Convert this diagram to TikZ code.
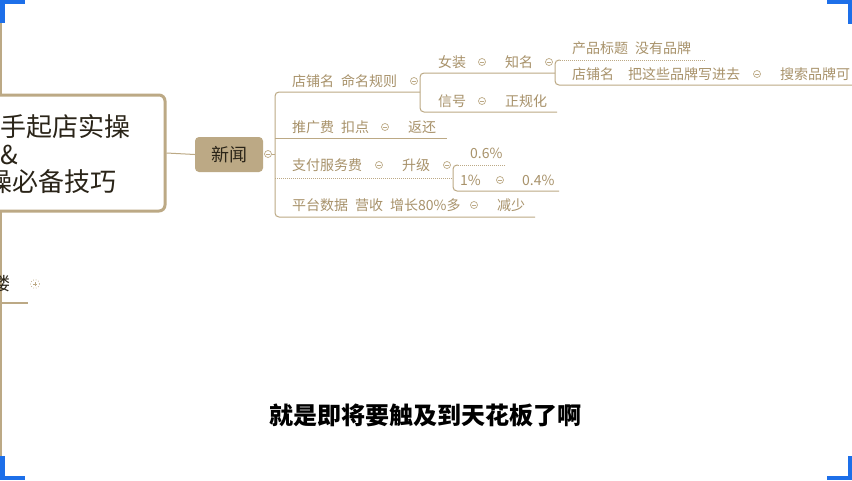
\documentclass[tikz,border=0pt]{standalone}
\usepackage{fontspec}
\newfontfamily\cjk{Noto Sans CJK SC}

\definecolor{ocre}{HTML}{BCA985}
\definecolor{ocretexte}{HTML}{A8926A}
\definecolor{encre}{HTML}{2A2418}
\definecolor{bleuecran}{HTML}{1D6FE9}

\tikzset{
  lien/.style={draw=ocre,line width=1pt},
  pointille/.style={draw=ocre,line width=1pt,dash pattern=on 1pt off 1pt},
  branche/.style={anchor=west,inner sep=0pt,text=ocretexte,
    font=\cjk\fontsize{14}{14}\selectfont,
    execute at begin node={\spaceskip=7pt\relax}},
  large/.style={execute at begin node={\spaceskip=14pt\relax}},
  pli/.style={circle,draw=ocre,line width=0.7pt,inner sep=0pt,minimum size=7pt,
    path picture={\draw[ocre,line width=0.7pt]
      ([xshift=-1.8pt]path picture bounding box.center)
      --
      ([xshift=1.8pt]path picture bounding box.center);}},
  pliplus/.style={circle,draw=ocre,dotted,line width=0.7pt,inner sep=0pt,minimum size=9pt,
    path picture={\draw[ocre,line width=0.7pt,solid]
      ([xshift=-2pt]path picture bounding box.center)
      --
      ([xshift=2pt]path picture bounding box.center)
      ([yshift=-2pt]path picture bounding box.center)
      --
      ([yshift=2pt]path picture bounding box.center);}},
  cadre/.style={draw=ocre,line width=3pt,rounded corners=6pt,fill=white,
    minimum width=186pt,minimum height=116pt},
  titre/.style={anchor=west,inner sep=0pt,text=encre,
    font=\cjk\fontsize{26}{26}\selectfont},
  sujet/.style={fill=ocre,rounded corners=4pt,minimum width=68pt,minimum height=35pt,
    text=encre,font=\cjk\fontsize{18}{18}\selectfont},
  soustitre/.style={inner sep=0pt,text=black,
    font=\cjk\bfseries\fontsize{24}{24}\selectfont}
}

\begin{document}
\begin{tikzpicture}[x=1pt,y=-1pt]

\useasboundingbox
(0,0)
rectangle
(852,480);
\fill[white]
(0,0)
rectangle
(852,480);

% Tronc
\coordinate (troncHaut) at (1,0);
\coordinate (troncBas) at (1,480);
\draw[ocre,line width=1.5pt]
(troncHaut)
--
(troncBas);

% Cadre central
\node[cadre] (theme) at (72,153) {};
\node[titre] (themeA) at (0,127) {手起店实操};
\node[titre] (themeB) at (0,155) {\&};
\node[titre,anchor=east] (themeC) at (117,182) {操必备技巧};

% Sujet
\node[sujet] (xinwen) at (229,154.5) {新闻};
\draw[lien]
(theme.east)
--
(xinwen.west);
\node[pli] (pliXinwen) at (268,154) {};

% Crochet principal
\coordinate (tronc) at (275,154);
\coordinate (coinHaut) at (275,92);
\coordinate (coinBas) at (275,217);
\coordinate (finDianpu) at (420,92);
\coordinate (finPingtai) at (535,217);
\coordinate (departTuiguang) at (275,138);
\coordinate (finTuiguang) at (447,138);
\coordinate (departZhifu) at (275,178);
\coordinate (finZhifu) at (453,178);

\draw[lien]
(pliXinwen.east)
--
(tronc);
\draw[lien,rounded corners=4pt]
(finDianpu)
--
(coinHaut)
--
(coinBas)
--
(finPingtai);
\draw[lien]
(departTuiguang)
--
(finTuiguang);
\draw[pointille]
(departZhifu)
--
(finZhifu);

% Branches
\node[branche] (dianpu) at (292,81) {店铺名 命名规则};
\node[pli] (pliDianpu) at (414,81) {};

\node[branche] (tuiguang) at (292,127) {推广费 扣点};
\node[pli] (pliTuiguang) at (385,127) {};
\node[branche] (fanhuan) at (408,127) {返还};

\node[branche] (zhifu) at (292,165) {支付服务费};
\node[pli] (pliZhifu) at (379,165) {};
\node[branche] (shengji) at (402,165) {升级};
\node[pli] (pliShengji) at (447,165) {};

\node[branche] (pingtai) at (292,205) {平台数据 营收 增长80\%多};
\node[pli] (pliPingtai) at (474,205) {};
\node[branche] (jianshao) at (497,205) {减少};

% Crochet店铺名
\coordinate (coinA1) at (420,73);
\coordinate (coinA2) at (420,112);
\coordinate (finZhiming) at (555,73);
\coordinate (finXinhao) at (557,112);
\draw[lien,rounded corners=4pt]
(finZhiming)
--
(coinA1)
--
(coinA2)
--
(finXinhao);

\node[branche] (nvzhuang) at (438,62) {女装};
\node[pli] (pliNvzhuang) at (482,62) {};
\node[branche] (zhiming) at (505,62) {知名};
\node[pli] (pliZhiming) at (549,62) {};

\node[branche] (xinhao) at (438,101) {信号};
\node[pli] (pliXinhao) at (482,101) {};
\node[branche] (guifan) at (505,101) {正规化};

% Crochet知名
\coordinate (coinB1) at (555,60);
\coordinate (coinB2) at (555,85);
\coordinate (departBiaoti) at (560,60);
\coordinate (finBiaoti) at (705,60);
\coordinate (finDianpuB) at (860,85);
\draw[lien,rounded corners=4pt]
(departBiaoti)
--
(coinB1)
--
(coinB2)
--
(finDianpuB);
\draw[pointille]
(departBiaoti)
--
(finBiaoti);

\node[branche] (biaoti) at (572,48) {产品标题 没有品牌};
\node[branche,large] (dianpuB) at (572,74) {店铺名 把这些品牌写进去};
\node[pli] (pliDianpuB) at (757,74) {};
\node[branche] (sousuo) at (780,74) {搜索品牌可};

% Crochet升级
\coordinate (coinC1) at (453,165);
\coordinate (coinC2) at (453,191);
\coordinate (departSix) at (458,165);
\coordinate (finSix) at (506,165);
\coordinate (finQuatre) at (559,191);
\draw[lien,rounded corners=4pt]
(departSix)
--
(coinC1)
--
(coinC2)
--
(finQuatre);
\draw[pointille]
(departSix)
--
(finSix);

\node[branche] (sixPct) at (470,153) {0.6\%};
\node[branche] (onePct) at (460,180) {1\%};
\node[pli] (pliOnePct) at (500,180) {};
\node[branche] (quatrePct) at (522,180) {0.4\%};

% Noeud replié
\node[anchor=east,inner sep=0pt,text=encre,
  font=\cjk\fontsize{18}{18}\selectfont] (lou) at (11,284) {楼};
\node[pliplus] (pliLou) at (35,284) {};
\coordinate (departLou) at (0,303);
\coordinate (finLou) at (28,303);
\draw[ocre,line width=2pt]
(departLou)
--
(finLou);

% Sous-titre
\node[soustitre] (phrase) at (425,415) {就是即将要触及到天花板了啊};

% Coins
\fill[bleuecran] (0,0) rectangle (25,4);
\fill[bleuecran] (0,0) rectangle (5,23);
\fill[bleuecran] (827,0) rectangle (852,4);
\fill[bleuecran] (848,0) rectangle (852,24);
\fill[bleuecran] (0,476) rectangle (25,480);
\fill[bleuecran] (0,456) rectangle (5,480);
\fill[bleuecran] (827,476) rectangle (852,480);
\fill[bleuecran] (848,456) rectangle (852,480);

\end{tikzpicture}
\end{document}
